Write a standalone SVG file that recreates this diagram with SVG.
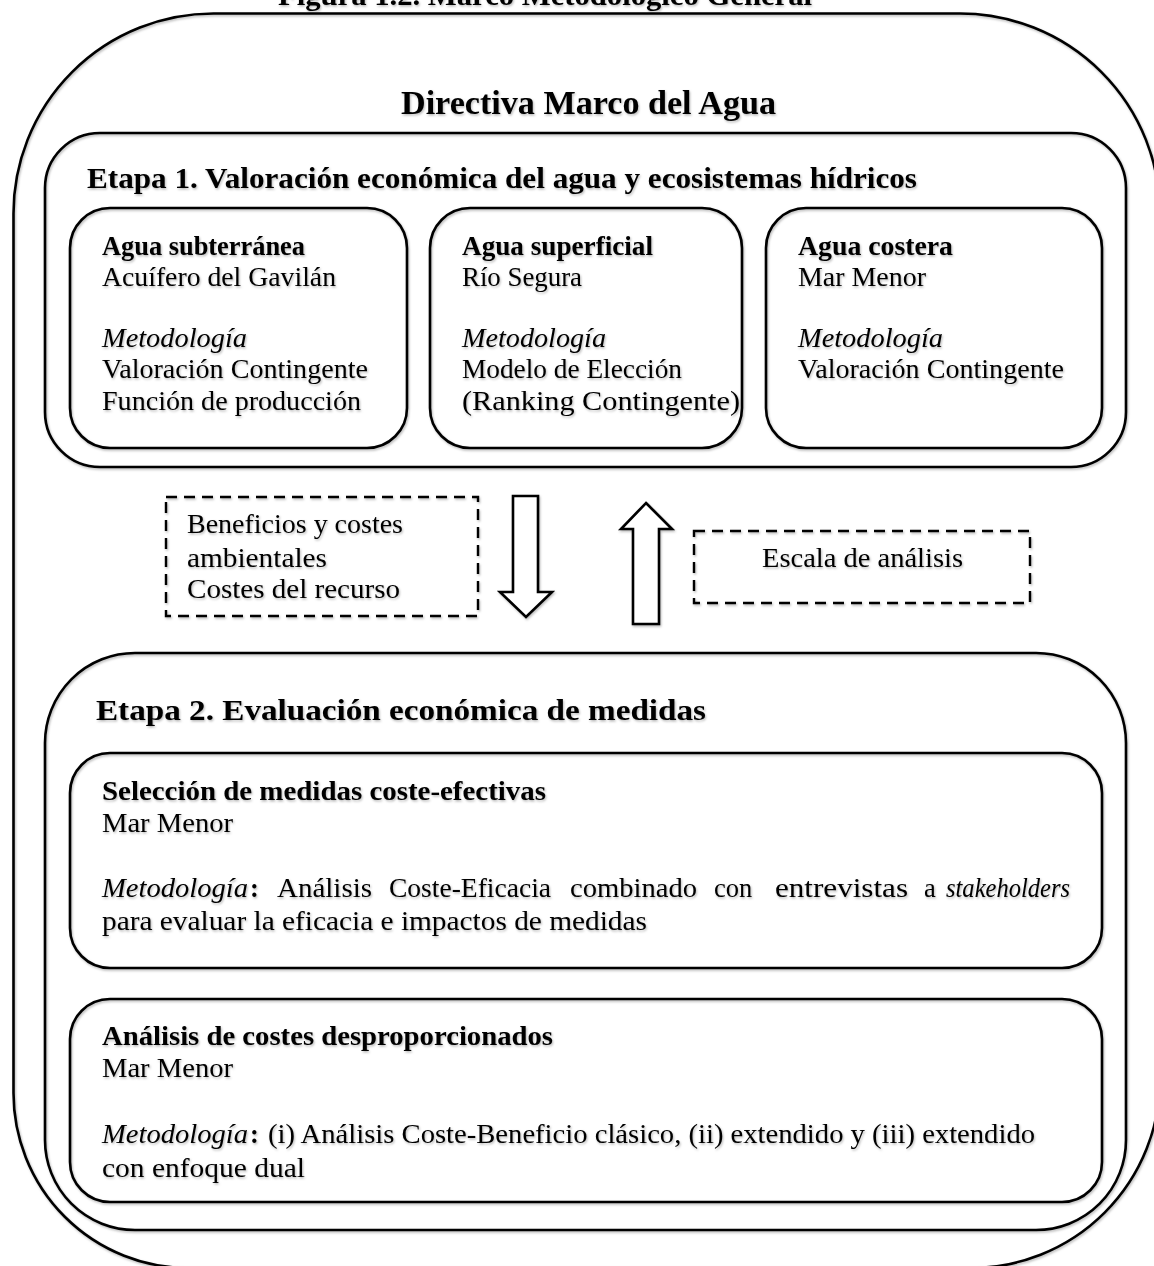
<svg xmlns="http://www.w3.org/2000/svg" width="1154" height="1266" viewBox="0 0 1154 1266">
<defs>
<filter id="sh" x="-5%" y="-5%" width="110%" height="110%">
<feDropShadow dx="1" dy="1.5" stdDeviation="1" flood-color="#000" flood-opacity="0.28"/>
</filter>
</defs>
<style>
.box{fill:none;stroke:#000;stroke-width:2.6}
.dash{fill:none;stroke:#000;stroke-width:2.4;stroke-dasharray:11 7}
.arrow{fill:#fff;stroke:#000;stroke-width:2.6;stroke-linejoin:miter}
text{font-family:"Liberation Serif","DejaVu Serif",serif;font-size:26.5px;fill:#000}
.b{font-weight:bold}
.i{font-style:italic}
.h1{font-size:33px;font-weight:bold}
.h2{font-size:28.5px;font-weight:bold}
</style>
<rect width="1154" height="1266" fill="#fff"/>
<g filter="url(#sh)">
<text id="figure-title" class="h2" x="278" y="5" textLength="534" lengthAdjust="spacingAndGlyphs">Figura 1.2. Marco Metodológico General</text>

<g id="directiva">
<path class="box" d="M213.5,13.5 H960 A200,200 0 0 1 1160,213.5 V1079 A189,189 0 0 1 971,1268 H188.5 A175,175 0 0 1 13.5,1093 V213.5 A200,200 0 0 1 213.5,13.5 Z"/>
<text class="h1" x="401" y="114" textLength="375" lengthAdjust="spacingAndGlyphs">Directiva Marco del Agua</text>
</g>

<g id="etapa1">
<rect class="box" x="45" y="133" width="1081" height="334" rx="55" ry="55"/>
<text class="h2" x="87" y="188" textLength="830" lengthAdjust="spacingAndGlyphs">Etapa 1. Valoración económica del agua y ecosistemas hídricos</text>
</g>

<g id="box-subterranea">
<rect class="box" x="70" y="208" width="337" height="240" rx="40" ry="40"/>
<text class="b" x="102" y="255" textLength="203" lengthAdjust="spacingAndGlyphs">Agua subterránea</text>
<text x="102" y="286" textLength="234" lengthAdjust="spacingAndGlyphs">Acuífero del Gavilán</text>
<text class="i" x="102" y="347" textLength="145" lengthAdjust="spacingAndGlyphs">Metodología</text>
<text x="102" y="378" textLength="266" lengthAdjust="spacingAndGlyphs">Valoración Contingente</text>
<text x="102" y="410" textLength="259" lengthAdjust="spacingAndGlyphs">Función de producción</text>
</g>

<g id="box-superficial">
<rect class="box" x="430" y="208" width="312" height="240" rx="40" ry="40"/>
<text class="b" x="462" y="255" textLength="191" lengthAdjust="spacingAndGlyphs">Agua superficial</text>
<text x="462" y="286" textLength="120" lengthAdjust="spacingAndGlyphs">Río Segura</text>
<text class="i" x="462" y="347" textLength="144" lengthAdjust="spacingAndGlyphs">Metodología</text>
<text x="462" y="378" textLength="220" lengthAdjust="spacingAndGlyphs">Modelo de Elección</text>
<text x="462" y="410" textLength="278" lengthAdjust="spacingAndGlyphs">(Ranking Contingente)</text>
</g>

<g id="box-costera">
<rect class="box" x="766" y="208" width="336" height="240" rx="40" ry="40"/>
<text class="b" x="798" y="255" textLength="155" lengthAdjust="spacingAndGlyphs">Agua costera</text>
<text x="798" y="286" textLength="128" lengthAdjust="spacingAndGlyphs">Mar Menor</text>
<text class="i" x="798" y="347" textLength="145" lengthAdjust="spacingAndGlyphs">Metodología</text>
<text x="798" y="378" textLength="266" lengthAdjust="spacingAndGlyphs">Valoración Contingente</text>
</g>

<g id="note-beneficios">
<rect class="dash" x="166" y="497" width="312" height="119"/>
<text x="187" y="533" textLength="216" lengthAdjust="spacingAndGlyphs">Beneficios y costes</text>
<text x="187" y="567" textLength="140" lengthAdjust="spacingAndGlyphs">ambientales</text>
<text x="187" y="598" textLength="213" lengthAdjust="spacingAndGlyphs">Costes del recurso</text>
</g>

<g id="note-escala">
<rect class="dash" x="694" y="531" width="336" height="72"/>
<text x="762" y="567" textLength="201" lengthAdjust="spacingAndGlyphs">Escala de análisis</text>
</g>

<g id="connectors">
<polygon class="arrow" points="513,496 538,496 538,592 552,592 526,617 500,592 513,592"/>
<polygon class="arrow" points="646,503 672,529 659,529 659,624 633,624 633,529 621,529"/>
</g>

<g id="etapa2">
<rect class="box" x="45" y="653" width="1081" height="577" rx="90" ry="90"/>
<text class="h2" x="96" y="720" textLength="610" lengthAdjust="spacingAndGlyphs">Etapa 2. Evaluación económica de medidas</text>
</g>

<g id="box-seleccion">
<rect class="box" x="70" y="753" width="1032" height="215" rx="40" ry="40"/>
<text class="b" x="102" y="800" textLength="444" lengthAdjust="spacingAndGlyphs">Selección de medidas coste-efectivas</text>
<text x="102" y="832" textLength="131" lengthAdjust="spacingAndGlyphs">Mar Menor</text>
<text y="897"><tspan class="i" x="102" textLength="146" lengthAdjust="spacingAndGlyphs">Metodología</tspan><tspan class="b" x="250">:</tspan><tspan x="277" textLength="95" lengthAdjust="spacingAndGlyphs">Análisis</tspan><tspan x="389" textLength="162" lengthAdjust="spacingAndGlyphs">Coste-Eficacia</tspan><tspan x="570" textLength="127" lengthAdjust="spacingAndGlyphs">combinado</tspan><tspan x="714">con</tspan><tspan x="775" textLength="133" lengthAdjust="spacingAndGlyphs">entrevistas</tspan><tspan x="924">a</tspan><tspan class="i" x="946" textLength="124" lengthAdjust="spacingAndGlyphs">stakeholders</tspan></text>
<text x="102" y="930" textLength="545" lengthAdjust="spacingAndGlyphs">para evaluar la eficacia e impactos de medidas</text>
</g>

<g id="box-desproporcionados">
<rect class="box" x="70" y="999" width="1032" height="203" rx="40" ry="40"/>
<text class="b" x="102" y="1045" textLength="451" lengthAdjust="spacingAndGlyphs">Análisis de costes desproporcionados</text>
<text x="102" y="1077" textLength="131" lengthAdjust="spacingAndGlyphs">Mar Menor</text>
<text y="1143"><tspan class="i" x="102" textLength="146" lengthAdjust="spacingAndGlyphs">Metodología</tspan><tspan class="b" x="250">:</tspan><tspan x="268" textLength="767" lengthAdjust="spacingAndGlyphs">(i) Análisis Coste-Beneficio clásico, (ii) extendido y (iii) extendido</tspan></text>
<text x="102" y="1177" textLength="203" lengthAdjust="spacingAndGlyphs">con enfoque dual</text>
</g>
</g>
</svg>
